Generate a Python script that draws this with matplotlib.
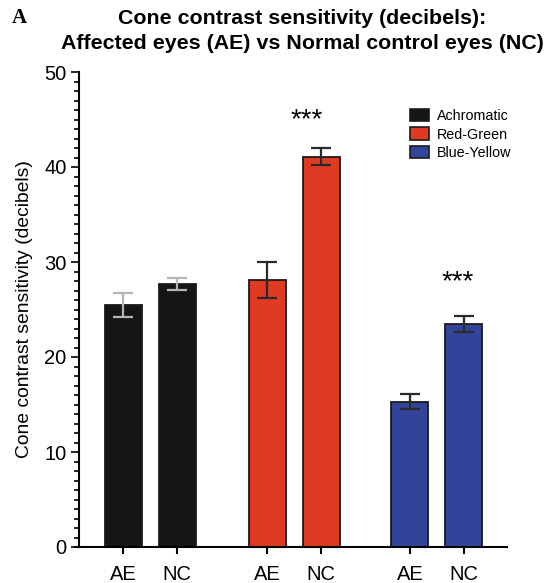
import matplotlib.pyplot as plt
from matplotlib.patches import Patch
from matplotlib.ticker import MultipleLocator

plt.rcParams['font.family'] = ['Liberation Sans', 'DejaVu Sans']

# data
groups = ['Achromatic', 'Red-Green', 'Blue-Yellow']
conditions = ['AE', 'NC']
means = [[25.5, 27.7], [28.1, 41.1], [15.3, 23.5]]
errors = [[1.25, 0.6], [1.9, 0.9], [0.8, 0.85]]
bar_colors = ['#151515', '#e03a22', '#32449a']
err_colors = ['#b4b4b4', '#2a2a2a', '#2a2a2a']
signif = ['', '***', '***']
star_x = [0, 3.39, 6.19]
star_y = [0, 44.9, 27.9]

group_pos = [0, 2.67, 5.31]

fig = plt.figure(figsize=(5.45, 5.83), dpi=100)
ax = fig.add_axes([79 / 545, 1 - 547 / 583, (507 - 79) / 545, (547 - 72) / 583])

ticks = []
labels = []
for gi, g in enumerate(groups):
    for ci, c in enumerate(conditions):
        x = group_pos[gi] + ci
        ax.bar(x, means[gi][ci], width=0.69, color=bar_colors[gi],
               edgecolor='#1a1a1a', linewidth=1.3, zorder=2)
        ax.errorbar(x, means[gi][ci], yerr=errors[gi][ci], fmt='none',
                    ecolor=err_colors[gi], elinewidth=1.6, capsize=7,
                    capthick=1.6, zorder=3)
        ticks.append(x)
        labels.append(c)
    if signif[gi]:
        ax.text(star_x[gi], star_y[gi], signif[gi], ha='center',
                va='center', fontsize=20)

ax.set_xlim(-0.82, 7.11)
ax.set_ylim(0, 50)
ax.set_xticks(ticks)
ax.set_xticklabels(labels, fontsize=14.5)
ax.yaxis.set_major_locator(MultipleLocator(10))
ax.yaxis.set_minor_locator(MultipleLocator(1))
ax.tick_params(axis='y', which='major', length=6, width=1.2, labelsize=14.5, pad=3)
ax.tick_params(axis='y', which='minor', length=3.5, width=1.2)
ax.tick_params(axis='x', length=5, width=1.5, pad=8)
for side in ['top', 'right']:
    ax.spines[side].set_visible(False)
ax.spines['left'].set_linewidth(1.5)
ax.spines['bottom'].set_linewidth(1.5)
ax.spines['bottom'].set_bounds(-0.89, 7.11)

ax.set_ylabel('Cone contrast sensitivity (decibels)', fontsize=13.9, labelpad=8)

handles = [Patch(facecolor=c, edgecolor='#1a1a1a', linewidth=1.2) for c in bar_colors]
ax.legend(handles, groups, loc='upper left', bbox_to_anchor=(0.773, 0.922),
          frameon=False, fontsize=10.3, handlelength=1.33, handleheight=0.95,
          handletextpad=0.55, labelspacing=0.3, borderpad=0, borderaxespad=0)

fig.text((62 + 543) / 2 / 545, 1 - 31 / 583,
         'Cone contrast sensitivity (decibels):\nAffected eyes (AE) vs Normal control eyes (NC)',
         ha='center', va='center', fontsize=15.4, fontweight='bold', linespacing=1.35)
fig.text(12 / 545, 1 - 18 / 583, 'A', fontsize=15, fontweight='bold',
         family='Liberation Serif', va='center', ha='left')

fig.savefig('out.png', dpi=100)
